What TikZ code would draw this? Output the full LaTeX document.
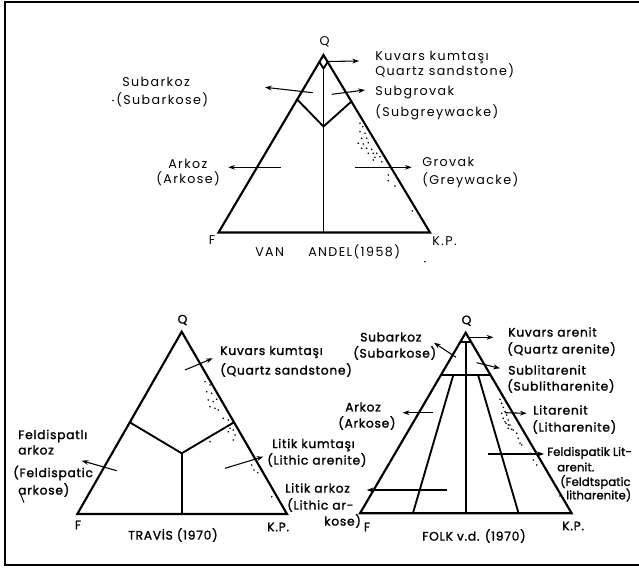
\documentclass[tikz,border=0pt]{standalone}
\usepackage{fontspec}
\setmainfont{Poppins}
\newfontfamily\topfam[LetterSpace=11]{Poppins}
\newfontfamily\boldfam[LetterSpace=6,FakeBold=1.5]{Poppins}
\newfontfamily\tightfam[LetterSpace=1,FakeBold=1.5]{Poppins}
\usetikzlibrary{arrows.meta}
\begin{document}
\begin{tikzpicture}[x=0.75pt,y=-0.75pt,
  tri/.style={line width=1.6pt, line join=miter},
  inl/.style={line width=1.4pt},
  arr/.style={-{Stealth[length=5pt,width=3.6pt]}, line width=0.8pt},
  lbl/.style={font=\topfam\fontsize{9.5}{11}\selectfont, inner sep=0pt, anchor=west},
  lblb/.style={font=\boldfam\fontsize{9.2}{11}\selectfont, inner sep=0pt, anchor=west},
  lblt/.style={font=\tightfam\fontsize{8.7}{10}\selectfont, inner sep=0pt, anchor=west},
  apex/.style={font=\topfam\fontsize{9.5}{11}\selectfont, inner sep=0pt},
  apexb/.style={font=\boldfam\fontsize{9.2}{11}\selectfont, inner sep=0pt},
  frame/.style={line width=2.2pt}]
\useasboundingbox (0,0) rectangle (639,568);
% frame
\draw[frame] (639,2) -- (5,2) -- (5,565) -- (639,565);

% ================= VAN ANDEL =================
\coordinate (VAq) at (323.5,55);
\coordinate (VAf) at (218.5,232.5);
\coordinate (VAk) at (430,232.5);
\draw[tri] (VAq) -- (VAf) -- (VAk) -- cycle;
\coordinate (VAs1) at (319.4,62);
\coordinate (VAs2) at (323.5,68.5);
\coordinate (VAs3) at (327.7,62);
\draw[inl] (VAs1) -- (VAs2) -- (VAs3);
\coordinate (VAb1) at (297.2,99.5);
\coordinate (VAb2) at (323.5,126.5);
\coordinate (VAb3) at (351.4,101.5);
\draw[inl] (VAb1) -- (VAb2) -- (VAb3);
\coordinate (VAbase) at (323.5,232.5);
\draw[inl] (VAs2) -- (VAbase);
% arrows
\coordinate (a1s) at (326.7,61.5); \coordinate (a1e) at (359,61);
\draw[arr] (a1s) -- (a1e);
\coordinate (a2s) at (312.7,92.7); \coordinate (a2e) at (265,87.3);
\draw[arr] (a2s) -- (a2e);
\coordinate (a3s) at (331.7,94.3); \coordinate (a3e) at (365,90);
\draw[arr] (a3s) -- (a3e);
\coordinate (a4s) at (280.7,167.3); \coordinate (a4e) at (228.3,167.3);
\draw[arr] (a4s) -- (a4e);
\coordinate (a5s) at (355,167.3); \coordinate (a5e) at (411.7,167.3);
\draw[arr] (a5s) -- (a5e);
% dots
\foreach \p in {(360,123.3),(362.7,126.7),(360,131.7),(365,133.3),(361.7,138.3),(366.7,138.3),(358.3,143.3),(363.3,144),(368.3,142.7),(361.7,148.3),(366.7,148.3),(371.7,149.3),(368.3,153.3),(373.3,153.3),(376.7,153.3),(375,157.3),(380,156.7),(373.3,160),(381.7,161.7),(388.3,175),(388.3,180.7),(395,186),(412.3,211),(425,261.7),(113,100.5)}
  \fill \p circle (0.9);
% labels
\node[apex] (VAQ) at (324.5,42) {Q};
\node[lbl] (VAl1) at (375,57) {Kuvars kumtaşı};
\node[lbl] (VAl2) at (375,71) {Quartz sandstone)};
\node[lbl] (VAl3) at (375,93) {Subgrovak};
\node[lbl] (VAl4) at (375,112) {(Subgreywacke)};
\node[lbl] (VAl5) at (422,162) {Grovak};
\node[lbl] (VAl6) at (422,180) {(Greywacke)};
\node[lbl] (VAl7) at (122,82) {Subarkoz};
\node[lbl] (VAl8) at (116,100) {(Subarkose)};
\node[lbl] (VAl9) at (168,164) {Arkoz};
\node[lbl] (VAl10) at (156,179) {(Arkose)};
\node[apex] (VAF) at (212,240) {F};
\node[lbl] (VAK) at (432,241) {K.P.};
\node[lbl] (VAt1) at (255,252) {VAN};
\node[lbl] (VAt2) at (308,252) {ANDEL(1958)};

% ================= TRAVIS =================
\coordinate (TRq) at (181.7,331.7);
\coordinate (TRf) at (77.3,514);
\coordinate (TRk) at (287,514);
\draw[tri] (TRq) -- (TRf) -- (TRk) -- cycle;
\coordinate (TRy1) at (129.8,422.3);
\coordinate (TRy0) at (181.7,453.3);
\coordinate (TRy2) at (234,422.3);
\coordinate (TRyb) at (181.7,514);
\draw[inl] (TRy1) -- (TRy0) -- (TRy2);
\draw[inl] (TRy0) -- (TRyb);
\coordinate (b1s) at (185,370); \coordinate (b1e) at (212.7,358.3);
\draw[arr] (b1s) -- (b1e);
\coordinate (b2s) at (116.7,470.7); \coordinate (b2e) at (81.7,460.7);
\draw[arr] (b2s) -- (b2e);
\coordinate (b3s) at (225,468.3); \coordinate (b3e) at (263.3,456.7);
\draw[arr] (b3s) -- (b3e);
\coordinate (tk1) at (20.5,494); \coordinate (tk2) at (24,502.7);
\draw[line width=0.7pt] (tk1) -- (tk2);
\foreach \p in {(205,381.7),(210,385),(206.7,391.7),(211.7,393.3),(208.3,400),(213.3,401.7),(216.7,399.3),(210,406.7),(215,408.3),(218.3,410),(223.3,418.3),(228.3,420),(231.7,423.3),(230,428.3),(233.3,430),(228.3,431.7),(235,435),(233.3,440),(210,441.7),(251.7,465),(254,470),(257.7,472.7),(271.7,496.7)}
  \fill \p circle (0.9);
\node[apexb] (TRQ) at (182.5,320) {Q};
\node[lblb] (TRl1) at (220,352) {Kuvars kumtaşı};
\node[lblb] (TRl2) at (220,370) {(Quartz sandstone)};
\node[lblb] (TRl3) at (18,436) {Feldispatlı};
\node[lblb] (TRl4) at (18,450) {arkoz};
\node[lblb] (TRl5) at (13,473) {(Feldispatic};
\node[lblb] (TRl6) at (18,490) {arkose)};
\node[lblb] (TRl7) at (272,445) {Litik kumtaşı};
\node[lblb] (TRl8) at (267,460) {(Lithic arenite)};
\node[apexb] (TRF) at (78,525) {F};
\node[lblb] (TRK) at (267,527) {K.P.};
\node[lblb] (TRt) at (128,535) {TRAVİS (1970)};

% ================= FOLK =================
\coordinate (FKq) at (465.7,332.7);
\coordinate (FKf) at (360,513.3);
\coordinate (FKk) at (571.7,513.3);
\draw[tri] (FKq) -- (FKf) -- (FKk) -- cycle;
\coordinate (FKc1) at (460.2,342); \coordinate (FKc2) at (471.2,342);
\draw[inl] (FKc1) -- (FKc2);
\coordinate (FKm) at (465.7,342); \coordinate (FKmb) at (465.7,513.3);
\draw[inl] (FKm) -- (FKmb);
\coordinate (FKh1) at (440.9,375); \coordinate (FKh2) at (490.5,375);
\draw[inl] (FKh1) -- (FKh2);
\coordinate (FKr1) at (453.3,375); \coordinate (FKr1b) at (412.9,513.3);
\coordinate (FKr2) at (478.1,375); \coordinate (FKr2b) at (518.6,513.3);
\draw[inl] (FKr1) -- (FKr1b);
\draw[inl] (FKr2) -- (FKr2b);
\coordinate (c1s) at (466.7,337.3); \coordinate (c1e) at (493.3,337.3);
\draw[arr] (c1s) -- (c1e);
\coordinate (c2s) at (456,357.3); \coordinate (c2e) at (434,342.7);
\draw[arr] (c2s) -- (c2e);
\coordinate (c3s) at (476.7,362.7); \coordinate (c3e) at (500,368.3);
\draw[arr] (c3s) -- (c3e);
\coordinate (c4s) at (433.3,412.7); \coordinate (c4e) at (402.7,412.7);
\draw[arr] (c4s) -- (c4e);
\coordinate (c5s) at (505,412.7); \coordinate (c5e) at (526.7,413.3);
\draw[arr] (c5s) -- (c5e);
\coordinate (c6s) at (488.3,454); \coordinate (c6e) at (544,454);
\draw[arr] (c6s) -- (c6e);
\coordinate (c7s) at (446.7,490); \coordinate (c7e) at (366.7,490);
\draw[arr] (c7s) -- (c7e);
\foreach \p in {(500,399.3),(501.7,403.3),(503.3,407.3),(505,411.7),(501.7,413.3),(506.7,415),(503.3,418.3),(508.3,420),(506,423.3),(510,425),(508.3,428.3),(511.7,429.3),(505,421.7),(508.3,425),(513.3,430),(516.7,433.3),(518.3,438.3),(520,443.3),(521.7,445),(530,453.3),(533.3,460),(536.7,465),(560,496)}
  \fill \p circle (0.9);
\node[apexb] (FKQ) at (466.5,320.7) {Q};
\node[lblb] (FKl1) at (360,337) {Subarkoz};
\node[lblb] (FKl2) at (353,353) {(Subarkose)};
\node[lblb] (FKl3) at (508,332) {Kuvars arenit};
\node[lblb] (FKl4) at (507,349) {(Quartz arenite)};
\node[lblb] (FKl5) at (508,370) {Sublitarenit};
\node[lblb] (FKl6) at (507,386) {(Sublitharenite)};
\node[lblb] (FKl7) at (345,407) {Arkoz};
\node[lblb] (FKl8) at (338,423) {(Arkose)};
\node[lblb] (FKl9) at (533,410) {Litarenit};
\node[lblb] (FKl10) at (532,427) {(Litharenite)};
\node[lblt] (FKl11) at (547,453) {Feldispatik Lit-};
\node[lblt] (FKl12) at (557,467) {arenit.};
\node[lblt] (FKl13) at (560,482) {(Feldtspatic};
\node[lblt] (FKl14) at (566,495) {litharenite)};
\node[lblb] (FKl15) at (285,488) {Litik arkoz};
\node[lblb] (FKl16) at (287,505) {(Lithic ar-};
\node[lblb] (FKl17) at (324,521) {kose)};
\node[apexb] (FKF) at (367,527) {F};
\node[lblb] (FKK) at (562,526) {K.P.};
\node[lblb] (FKt) at (422,536) {FOLK v.d. (1970)};
\end{tikzpicture}
\end{document}
